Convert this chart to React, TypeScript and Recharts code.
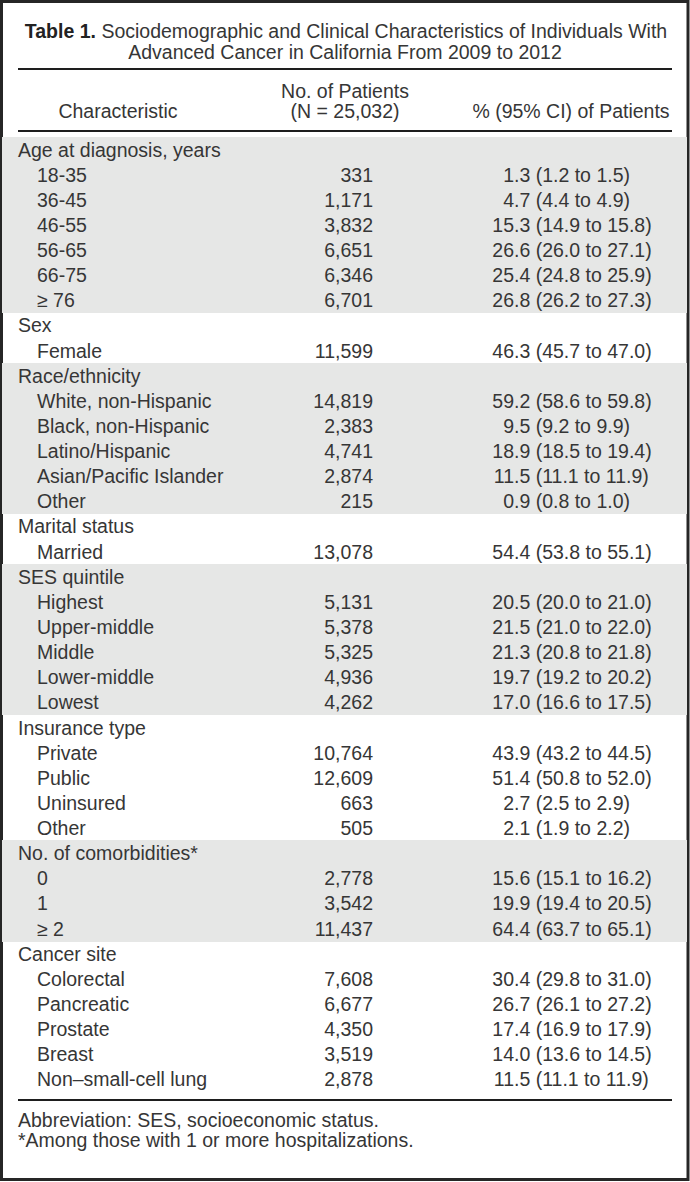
import { BarChart, Bar, XAxis, YAxis, Customized } from 'recharts';

const groupNames = [
  'Age at diagnosis, years',
  'Sex',
  'Race/ethnicity',
  'Marital status',
  'SES quintile',
  'Insurance type',
  'No. of comorbidities*',
  'Cancer site',
];

const groupSizes = [6, 1, 5, 1, 5, 4, 3, 5];

const subgroupLabels = [
  '18-35', '36-45', '46-55', '56-65', '66-75', '\u2265 76',
  'Female',
  'White, non-Hispanic', 'Black, non-Hispanic', 'Latino/Hispanic', 'Asian/Pacific Islander', 'Other',
  'Married',
  'Highest', 'Upper-middle', 'Middle', 'Lower-middle', 'Lowest',
  'Private', 'Public', 'Uninsured', 'Other',
  '0', '1', '\u2265 2',
  'Colorectal', 'Pancreatic', 'Prostate', 'Breast', 'Non\u2013small-cell lung',
];

const patientCounts = [
  331, 1171, 3832, 6651, 6346, 6701,
  11599,
  14819, 2383, 4741, 2874, 215,
  13078,
  5131, 5378, 5325, 4936, 4262,
  10764, 12609, 663, 505,
  2778, 3542, 11437,
  7608, 6677, 4350, 3519, 2878,
];

const percentOfPatients = [
  1.3, 4.7, 15.3, 26.6, 25.4, 26.8,
  46.3,
  59.2, 9.5, 18.9, 11.5, 0.9,
  54.4,
  20.5, 21.5, 21.3, 19.7, 17.0,
  43.9, 51.4, 2.7, 2.1,
  15.6, 19.9, 64.4,
  30.4, 26.7, 17.4, 14.0, 11.5,
];

const ciLower = [
  1.2, 4.4, 14.9, 26.0, 24.8, 26.2,
  45.7,
  58.6, 9.2, 18.5, 11.1, 0.8,
  53.8,
  20.0, 21.0, 20.8, 19.2, 16.6,
  43.2, 50.8, 2.5, 1.9,
  15.1, 19.4, 63.7,
  29.8, 26.1, 16.9, 13.6, 11.1,
];

const ciUpper = [
  1.5, 4.9, 15.8, 27.1, 25.9, 27.3,
  47.0,
  59.8, 9.9, 19.4, 11.9, 1.0,
  55.1,
  21.0, 22.0, 21.8, 20.2, 17.5,
  44.5, 52.0, 2.9, 2.2,
  16.2, 20.5, 65.1,
  31.0, 27.2, 17.9, 14.5, 11.9,
];

const FONT = '"Liberation Sans", Arial, sans-serif';
const INK = '#363636';
const SHADE = '#e6e7e6';
const FS = 19.5;

// build one row per table line (group header + its items)
type Row = {
  id: number;
  label: string;
  isHeader: boolean;
  shaded: boolean;
  count: number | null;
  pct: number | null;
  lo: number | null;
  hi: number | null;
  band: number;
};

const rows: Row[] = [];
let k = 0;
groupNames.forEach((g, gi) => {
  rows.push({ id: rows.length, label: g, isHeader: true, shaded: gi % 2 === 0, count: null, pct: null, lo: null, hi: null, band: 1 });
  for (let j = 0; j < groupSizes[gi]; j++) {
    rows.push({
      id: rows.length,
      label: subgroupLabels[k],
      isHeader: false,
      shaded: gi % 2 === 0,
      count: patientCounts[k],
      pct: percentOfPatients[k],
      lo: ciLower[k],
      hi: ciUpper[k],
      band: 1,
    });
    k++;
  }
});

const DECIMAL_X = 514;

const RowShape = (props: any) => {
  const { x, y, width, height, payload } = props;
  const base = y + height / 2 + 7;
  const pctStr = payload.pct != null ? payload.pct.toFixed(1) : '';
  const [intPart, fracPart] = pctStr.split('.');
  return (
    <g>
      {payload.shaded && (
        <rect x={x} y={y - 0.5} width={width} height={height + 1} fill={SHADE} shapeRendering="crispEdges" />
      )}
      <text x={payload.isHeader ? 18 : 37} y={base} fontSize={FS} fontFamily={FONT} fill={INK}>
        {payload.label}
      </text>
      {payload.count != null && (
        <text x={373} y={base} fontSize={FS} fontFamily={FONT} fill={INK} textAnchor="end">
          {payload.count.toLocaleString('en-US')}
        </text>
      )}
      {payload.pct != null && (
        <>
          <text x={DECIMAL_X} y={base} fontSize={FS} fontFamily={FONT} fill={INK} textAnchor="end">
            {intPart}
          </text>
          <text x={DECIMAL_X} y={base} fontSize={FS} fontFamily={FONT} fill={INK}>
            {`.${fracPart} (${payload.lo.toFixed(1)} to ${payload.hi.toFixed(1)})`}
          </text>
        </>
      )}
    </g>
  );
};

const Frame = () => (
  <g fontFamily={FONT} fill={INK} fontSize={FS}>
    <text x={346} y={38} textAnchor="middle">
      <tspan fontWeight="bold" fill="#222">Table 1.</tspan>
      <tspan> Sociodemographic and Clinical Characteristics of Individuals With</tspan>
    </text>
    <text x={345} y={59} textAnchor="middle">Advanced Cancer in California From 2009 to 2012</text>
    <line x1={18} x2={672} y1={69} y2={69} stroke="#1e1e1e" strokeWidth={2} />
    <text x={118} y={118} textAnchor="middle">Characteristic</text>
    <text x={345} y={98} textAnchor="middle">No. of Patients</text>
    <text x={345} y={118} textAnchor="middle">(N = 25,032)</text>
    <text x={571} y={118} textAnchor="middle">% (95% CI) of Patients</text>
    <line x1={18} x2={672} y1={131} y2={131} stroke="#1e1e1e" strokeWidth={2} />
    <line x1={18} x2={672} y1={1100} y2={1100} stroke="#1e1e1e" strokeWidth={2} />
    <text x={18} y={1127}>Abbreviation: SES, socioeconomic status.</text>
    <text x={18} y={1147}>*Among those with 1 or more hospitalizations.</text>
    <rect x={1.5} y={1.5} width={686.5} height={1178} fill="none" stroke="#262626" strokeWidth={3} />
  </g>
);

export default function App() {
  return (
    <div style={{ width: 690, height: 1182, background: '#fff' }}>
      <style>{'body{margin:0;overflow:hidden;background:#fff}'}</style>
      <BarChart
        width={690}
        height={1182}
        layout="vertical"
        data={rows}
        margin={{ top: 137, right: 3, bottom: 90, left: 2 }}
        barCategoryGap={0}
      >
        <XAxis type="number" hide domain={[0, 1]} />
        <YAxis type="category" dataKey="id" hide />
        <Bar dataKey="band" isAnimationActive={false} shape={<RowShape />} />
        <Customized component={<Frame />} />
      </BarChart>
    </div>
  );
}
